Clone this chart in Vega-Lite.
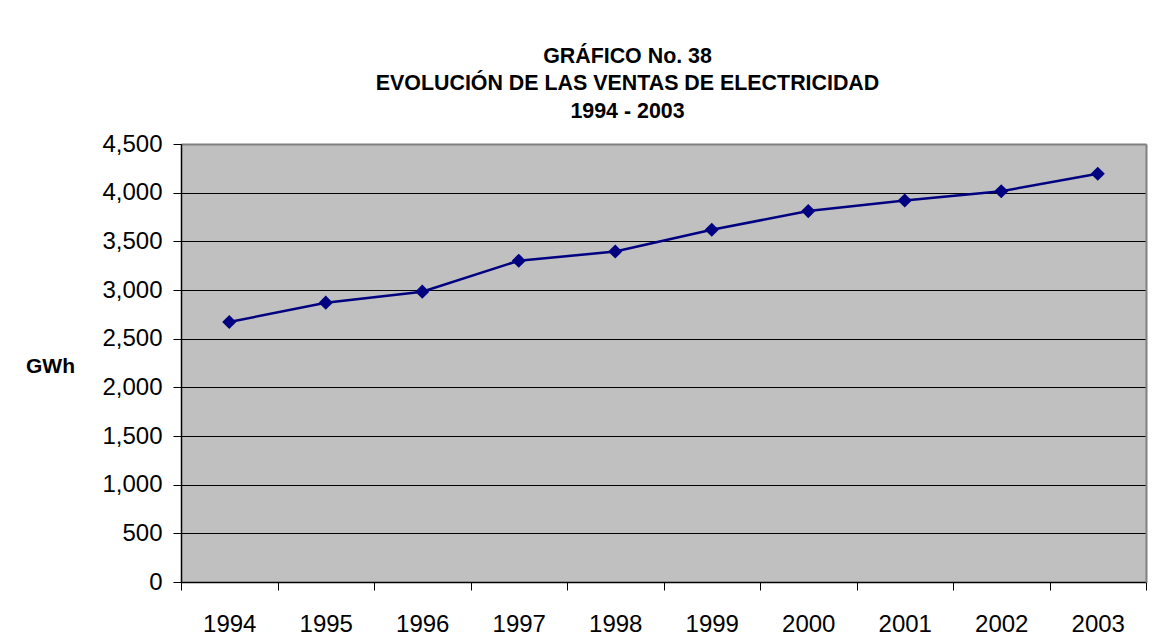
{
  "$schema": "https://vega.github.io/schema/vega-lite/v6.json",
  "width": 965,
  "height": 438,
  "autosize": "none",
  "padding": {"left": 181, "top": 144, "right": 22, "bottom": 59},
  "background": "white",
  "config": {
    "view": {"fill": "#c0c0c0", "stroke": null},
    "font": "Liberation Sans"
  },
  "title": {
    "text": ["GRÁFICO No. 38", "EVOLUCIÓN DE LAS VENTAS DE ELECTRICIDAD", "1994 - 2003"],
    "fontSize": 21.4,
    "fontWeight": "bold",
    "font": "Liberation Sans",
    "color": "black",
    "lineHeight": 27.5,
    "anchor": "middle",
    "dx": -36,
    "offset": 10
  },
  "data": {
    "values": [
      {"year": "1994", "gwh": 2671},
      {"year": "1995", "gwh": 2870},
      {"year": "1996", "gwh": 2983},
      {"year": "1997", "gwh": 3301},
      {"year": "1998", "gwh": 3395},
      {"year": "1999", "gwh": 3619},
      {"year": "2000", "gwh": 3811},
      {"year": "2001", "gwh": 3920},
      {"year": "2002", "gwh": 4015},
      {"year": "2003", "gwh": 4194}
    ]
  },
  "layer": [
    {
      "mark": {"type": "line", "color": "#000080", "strokeWidth": 2.5},
      "encoding": {
        "x": {
          "field": "year", "type": "ordinal", "bandPosition": 0.5,
          "scale": {"type": "band", "paddingInner": 0, "paddingOuter": 0},
          "axis": {
            "title": null, "labelAngle": 0, "tickBand": "extent",
            "labelFontSize": 24, "labelColor": "black", "labelFont": "Liberation Sans",
            "domainColor": "black", "domainWidth": 1.5,
            "tickColor": "black", "tickSize": 8, "tickWidth": 1,
            "labelPadding": 22, "grid": false
          }
        },
        "y": {
          "field": "gwh", "type": "quantitative",
          "scale": {"domain": [0, 4500]},
          "axis": {
            "title": "GWh", "titleAngle": 0, "titleFontSize": 21, "titleFontWeight": "bold",
            "titleFont": "Liberation Sans", "titleColor": "black",
            "titleX": -131, "titleY": 222, "titleAlign": "center", "titleBaseline": "middle",
            "values": [0, 500, 1000, 1500, 2000, 2500, 3000, 3500, 4000, 4500],
            "format": ",d",
            "labelFontSize": 24, "labelColor": "black", "labelFont": "Liberation Sans",
            "labelPadding": 11,
            "tickSize": 8, "tickColor": "black", "tickWidth": 1,
            "domainColor": "black", "domainWidth": 1.5,
            "grid": true,
            "gridColor": {"condition": {"test": "datum.value >= 4500", "value": "#808080"}, "value": "black"},
            "gridWidth": 1, "gridOpacity": 1
          }
        }
      }
    },
    {
      "mark": {"type": "point", "shape": "diamond", "filled": true, "color": "#000080", "size": 200, "opacity": 1},
      "encoding": {
        "x": {
          "field": "year", "type": "ordinal", "bandPosition": 0.5,
          "scale": {"type": "band", "paddingInner": 0, "paddingOuter": 0},
          "axis": {"orient": "top", "labels": false, "ticks": false, "grid": false, "domainColor": "#808080", "domainWidth": 2, "title": null}
        },
        "y": {
          "field": "gwh", "type": "quantitative",
          "scale": {"domain": [0, 4500]},
          "axis": {"orient": "right", "labels": false, "ticks": false, "grid": false, "domainColor": "#808080", "domainWidth": 2, "title": null}
        }
      }
    }
  ],
  "resolve": {"axis": {"x": "independent", "y": "independent"}}
}
